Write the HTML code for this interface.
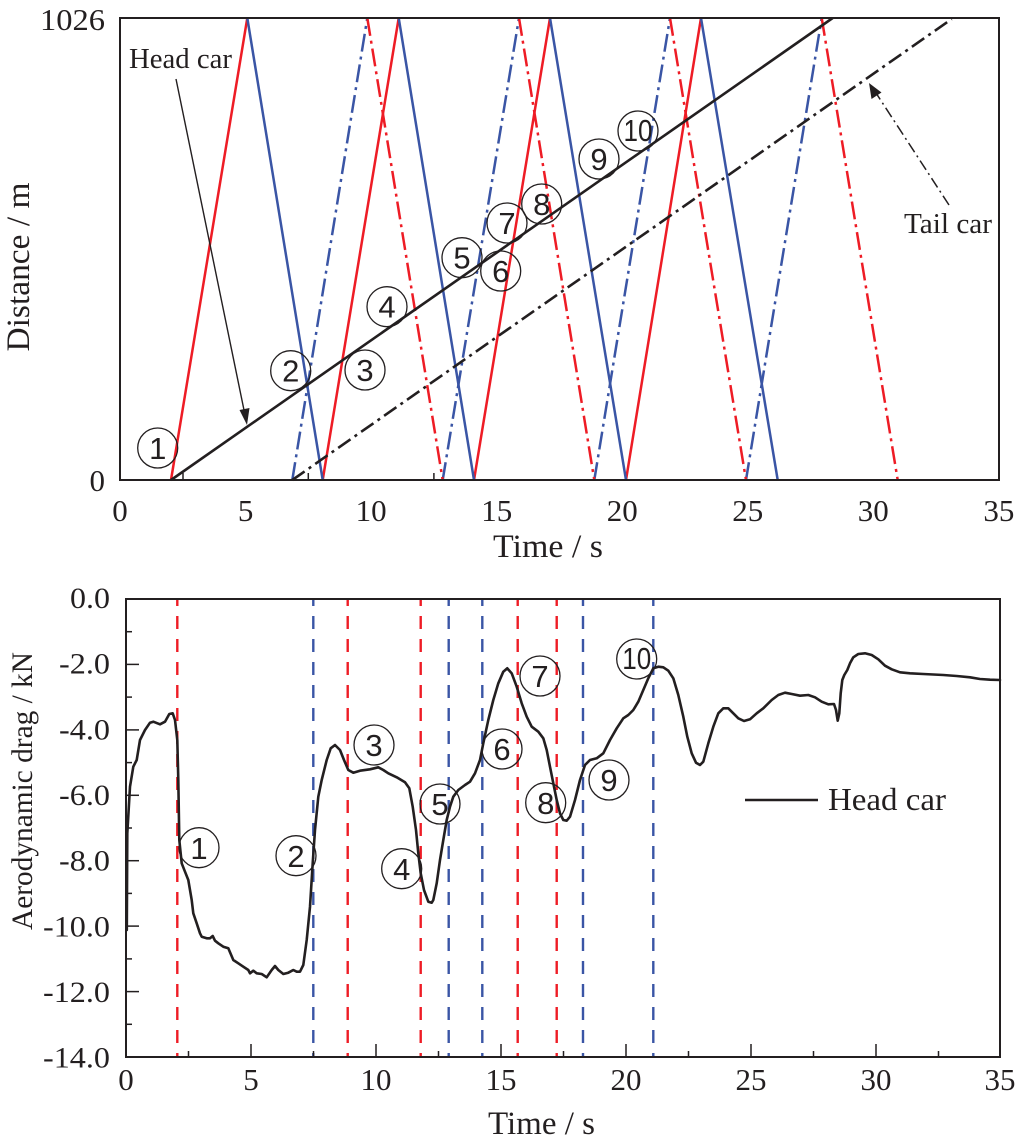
<!DOCTYPE html>
<html><head><meta charset="utf-8"><style>
html,body{margin:0;padding:0;background:#fff;}
svg{display:block;}
.t{font-family:"Liberation Serif",serif;fill:#231f20;}
.n{font-family:"Liberation Sans",sans-serif;fill:#231f20;font-size:31px;text-anchor:middle;}
</style></head><body>
<svg width="1017" height="1146" viewBox="0 0 1017 1146" xmlns="http://www.w3.org/2000/svg">
<rect width="1017" height="1146" fill="#fff"/>
<!-- ================= TOP CHART ================= -->
<g stroke-width="2.5" fill="none" stroke-linecap="butt">
<g stroke="#ee1c25">
<line x1="171" y1="480" x2="247.3" y2="18"/>
<line x1="322.7" y1="480" x2="398.7" y2="18"/>
<line x1="474" y1="480" x2="550" y2="18"/>
<line x1="626" y1="480" x2="701" y2="18"/>
</g>
<g stroke="#3a55a5">
<line x1="247.3" y1="18" x2="322.7" y2="480"/>
<line x1="398.7" y1="18" x2="474" y2="480"/>
<line x1="550" y1="18" x2="626" y2="480"/>
<line x1="701" y1="18" x2="777.7" y2="480"/>
</g>
<g stroke="#3a55a5" stroke-dasharray="18 5 3 5">
<line x1="292.3" y1="480" x2="367.3" y2="18"/>
<line x1="442.7" y1="480" x2="519" y2="18"/>
<line x1="594.3" y1="480" x2="670" y2="18"/>
<line x1="746" y1="480" x2="821.7" y2="18"/>
</g>
<g stroke="#ee1c25" stroke-dasharray="18 5 3 5">
<line x1="367.3" y1="18" x2="442.7" y2="480"/>
<line x1="519" y1="18" x2="594.3" y2="480"/>
<line x1="670" y1="18" x2="746" y2="480"/>
<line x1="821.7" y1="18" x2="897.7" y2="480"/>
</g>
<line x1="171" y1="480" x2="832.7" y2="18" stroke="#231f20" stroke-width="2.6"/>
<line x1="292.3" y1="480" x2="951.7" y2="19" stroke="#231f20" stroke-width="2.6" stroke-dasharray="15 5 3 5"/>
</g>
<rect x="120" y="18" width="879" height="462" fill="none" stroke="#231f20" stroke-width="2"/>
<g stroke="#231f20" stroke-width="1.5">
<line x1="183" y1="480" x2="183" y2="473"/>
<line x1="308.3" y1="480" x2="308.3" y2="473"/>
<line x1="433.9" y1="480" x2="433.9" y2="473"/>
</g>
<text class="t" x="129" y="68" font-size="29" textLength="103" lengthAdjust="spacingAndGlyphs">Head car</text>
<line x1="176" y1="79" x2="244.6" y2="413" stroke="#231f20" stroke-width="1.4"/>
<polygon points="247,425 239.5,410 249.5,408" fill="#231f20"/>
<text class="t" x="904" y="233" font-size="29" textLength="88" lengthAdjust="spacingAndGlyphs">Tail car</text>
<line x1="949" y1="205" x2="876" y2="93" stroke="#231f20" stroke-width="1.5" stroke-dasharray="11 4 2 4"/>
<polygon points="869,83 871.5,99 881.5,92.5" fill="#231f20"/>
<g fill="none" stroke="#231f20" stroke-width="1.3">
<circle cx="157.7" cy="448" r="20"/>
<circle cx="290.7" cy="370.7" r="20"/>
<circle cx="365" cy="370" r="20"/>
<circle cx="387" cy="306.7" r="20"/>
<circle cx="462" cy="257.7" r="20"/>
<circle cx="500.7" cy="271" r="20"/>
<circle cx="507" cy="223" r="20"/>
<circle cx="541.7" cy="204" r="20"/>
<circle cx="599" cy="159" r="20"/>
<circle cx="638" cy="131" r="20"/>
</g>
<text class="n" x="157.7" y="459">1</text>
<text class="n" x="290.7" y="381.7">2</text>
<text class="n" x="365" y="381">3</text>
<text class="n" x="387" y="317.7">4</text>
<text class="n" x="462" y="268.7">5</text>
<text class="n" x="500.7" y="282">6</text>
<text class="n" x="507" y="234">7</text>
<text class="n" x="541.7" y="215">8</text>
<text class="n" x="599" y="170">9</text>
<text class="n" x="638" y="141" font-size="28" textLength="29" lengthAdjust="spacingAndGlyphs">10</text>
<g class="t" font-size="31" text-anchor="end">
<text x="105" y="30" textLength="65" lengthAdjust="spacingAndGlyphs">1026</text>
<text x="105" y="491">0</text>
</g>
<g class="t" font-size="31" text-anchor="middle">
<text x="120" y="521">0</text>
<text x="245.6" y="521">5</text>
<text x="371.1" y="521">10</text>
<text x="496.7" y="521">15</text>
<text x="622.2" y="521">20</text>
<text x="747.8" y="521">25</text>
<text x="873.3" y="521">30</text>
<text x="998.9" y="521">35</text>
</g>
<text class="t" x="548" y="557" font-size="33" text-anchor="middle" textLength="110" lengthAdjust="spacingAndGlyphs">Time / s</text>
<text class="t" transform="translate(29,267) rotate(-90)" x="0" y="0" font-size="33" text-anchor="middle" textLength="169" lengthAdjust="spacingAndGlyphs">Distance / m</text>

<!-- ================= BOTTOM CHART ================= -->
<g stroke-width="2.4" stroke-dasharray="13 10" stroke-dashoffset="6">
<g stroke="#ee1c25">
<line x1="177.3" y1="599" x2="177.3" y2="1057"/>
<line x1="347.7" y1="599" x2="347.7" y2="1057"/>
<line x1="420.7" y1="599" x2="420.7" y2="1057"/>
<line x1="517.7" y1="599" x2="517.7" y2="1057"/>
<line x1="556.7" y1="599" x2="556.7" y2="1057"/>
</g>
<g stroke="#3a55a5">
<line x1="313.3" y1="599" x2="313.3" y2="1057"/>
<line x1="448.7" y1="599" x2="448.7" y2="1057"/>
<line x1="482.3" y1="599" x2="482.3" y2="1057"/>
<line x1="583" y1="599" x2="583" y2="1057"/>
<line x1="653.3" y1="599" x2="653.3" y2="1057"/>
</g>
</g>
<polyline fill="none" stroke="#231f20" stroke-width="2.6" stroke-linejoin="round" stroke-linecap="round" points="
126.8,930 127.3,833.3 130,786.7 133.3,766.7 136.7,760 140,740 145,730 150,722.7 153.3,721.7 160,724.3 165,721.7 169.3,714 172.7,713.3 175,720 177.3,740 178.3,780 179.3,840 181.7,863.3 185,871.7 188.3,880 191.7,900 193.3,913.3 196.7,923.3 200,933.3 201.7,936.7 206.7,938.3 210,938.3 212.7,936 215,940.7 218.3,943.3 223.3,946.7 228.3,948.3 233.3,960 238.3,963.3 243.3,966.7 248.3,970 250,973.3 253.3,970.7 256.7,973.3 261.7,974 266.7,977.3 271.7,970 275,966 278.3,970 283.3,974 288.3,972.7 293.3,970 296.7,971.7 300,971.7 303.3,965 306.7,940 310,906.7 312.7,863.3 315,830 318.3,796.7 321.7,780 326.7,760 330.7,748.3 335,745 340,750 344,760 348.3,770 353.3,772.7 360,770.7 370,769.3 378.3,767.3 383.3,770 388.3,773.3 396.7,777.3 405,782.3 409.3,788.3 412.7,806.7 416,830 418.3,853.3 420.7,873.3 424,890 428.3,901.7 431.7,902.7 433.3,900 436.7,883.3 440,860 443.3,840 446.7,820 450,806.7 453.3,796.7 458.3,790 465,785 470,781.7 475,773.3 480,760 483.3,743.3 488.3,720 493.3,700 498.3,683.3 503.3,671.7 507.3,668.3 511.7,673.3 516.7,686.7 521.7,703.3 526.7,716.7 531.7,726.7 538.3,731.7 543.3,738.3 546.7,750 550,766.7 553.3,783.3 556.7,800 560,813.3 563.3,820 566.7,820.7 570,816.7 575,800 580,780 585,765 590,760 596.7,758.3 603.3,753.3 610,740 616.7,728.3 623.3,718.3 628.3,715 633.3,710 638.3,701.7 643.3,690 648.3,678.3 653.3,668.3 658.3,666.7 663.3,667.3 668.3,670.7 673.3,678.3 678.3,695 683.3,716.7 687.3,736.7 691.7,753.3 696,762.7 700,765 703.3,761.7 708.3,743.3 713.3,726.7 718.3,713.3 723.3,708.3 728.3,708.3 733.3,713.3 738.3,718.3 744,721 750,719.3 756.7,713.3 763.3,708.3 771.7,700 778.3,695 785,692.7 791.7,694 800,695.7 808.3,695 815,697.3 821.7,701.7 828.3,704.3 834,704 836,710 837.7,720.7 839.3,713.3 840.7,693.3 842.3,680 844.3,675 847.3,670 850,663.3 853.3,657.3 858.3,654 865,653.3 871.7,655 878.3,659.3 885,665.7 891.7,669.3 900,672.3 910,673.3 923.3,674 943.3,675 956.7,676 970,677.3 980,679 990,679.7 1000,680"/>
<rect x="126" y="599" width="874" height="458" fill="none" stroke="#231f20" stroke-width="2"/>
<g stroke="#231f20" stroke-width="1.5">
<line x1="126" y1="631.7" x2="132" y2="631.7"/>
<line x1="126" y1="664.4" x2="139" y2="664.4"/>
<line x1="126" y1="697.1" x2="132" y2="697.1"/>
<line x1="126" y1="729.9" x2="139" y2="729.9"/>
<line x1="126" y1="762.6" x2="132" y2="762.6"/>
<line x1="126" y1="795.3" x2="139" y2="795.3"/>
<line x1="126" y1="828" x2="132" y2="828"/>
<line x1="126" y1="860.7" x2="139" y2="860.7"/>
<line x1="126" y1="893.4" x2="132" y2="893.4"/>
<line x1="126" y1="926.1" x2="139" y2="926.1"/>
<line x1="126" y1="958.9" x2="132" y2="958.9"/>
<line x1="126" y1="991.6" x2="139" y2="991.6"/>
<line x1="126" y1="1024.3" x2="132" y2="1024.3"/>
<line x1="188.5" y1="1057" x2="188.5" y2="1051"/>
<line x1="251" y1="1057" x2="251" y2="1044"/>
<line x1="313.5" y1="1057" x2="313.5" y2="1051"/>
<line x1="376" y1="1057" x2="376" y2="1044"/>
<line x1="438.5" y1="1057" x2="438.5" y2="1051"/>
<line x1="501" y1="1057" x2="501" y2="1044"/>
<line x1="563.5" y1="1057" x2="563.5" y2="1051"/>
<line x1="626" y1="1057" x2="626" y2="1044"/>
<line x1="688.5" y1="1057" x2="688.5" y2="1051"/>
<line x1="751" y1="1057" x2="751" y2="1044"/>
<line x1="813.5" y1="1057" x2="813.5" y2="1051"/>
<line x1="876" y1="1057" x2="876" y2="1044"/>
<line x1="938.5" y1="1057" x2="938.5" y2="1051"/>
</g>
<line x1="745" y1="800" x2="818" y2="800" stroke="#231f20" stroke-width="2.6"/>
<text class="t" x="828" y="810" font-size="32" textLength="118" lengthAdjust="spacingAndGlyphs">Head car</text>
<g fill="none" stroke="#231f20" stroke-width="1.3">
<circle cx="199" cy="847.7" r="20"/>
<circle cx="296" cy="855.7" r="20"/>
<circle cx="374" cy="745" r="20"/>
<circle cx="401.7" cy="868.7" r="20"/>
<circle cx="440" cy="804" r="20"/>
<circle cx="502" cy="749" r="20"/>
<circle cx="540" cy="676" r="20"/>
<circle cx="545.7" cy="802.7" r="20"/>
<circle cx="609" cy="780" r="20"/>
<circle cx="636.7" cy="659" r="20"/>
</g>
<text class="n" x="199" y="859">1</text>
<text class="n" x="296" y="867">2</text>
<text class="n" x="374" y="756">3</text>
<text class="n" x="401.7" y="880">4</text>
<text class="n" x="440" y="815">5</text>
<text class="n" x="502" y="760">6</text>
<text class="n" x="540" y="687">7</text>
<text class="n" x="545.7" y="814">8</text>
<text class="n" x="609" y="791">9</text>
<text class="n" x="636.7" y="669" font-size="28" textLength="29" lengthAdjust="spacingAndGlyphs">10</text>
<g class="t" font-size="30" text-anchor="end">
<text x="110" y="608" textLength="40" lengthAdjust="spacingAndGlyphs">0.0</text>
<text x="110" y="673.7" textLength="51" lengthAdjust="spacingAndGlyphs">-2.0</text>
<text x="110" y="739.3" textLength="51" lengthAdjust="spacingAndGlyphs">-4.0</text>
<text x="110" y="805" textLength="51" lengthAdjust="spacingAndGlyphs">-6.0</text>
<text x="110" y="870.7" textLength="51" lengthAdjust="spacingAndGlyphs">-8.0</text>
<text x="110" y="936.4" textLength="67" lengthAdjust="spacingAndGlyphs">-10.0</text>
<text x="110" y="1002" textLength="67" lengthAdjust="spacingAndGlyphs">-12.0</text>
<text x="110" y="1067.7" textLength="67" lengthAdjust="spacingAndGlyphs">-14.0</text>
</g>
<g class="t" font-size="31" text-anchor="middle">
<text x="126" y="1090">0</text>
<text x="251" y="1090">5</text>
<text x="376" y="1090">10</text>
<text x="501" y="1090">15</text>
<text x="626" y="1090">20</text>
<text x="751" y="1090">25</text>
<text x="876" y="1090">30</text>
<text x="1000" y="1090">35</text>
</g>
<text class="t" x="541.5" y="1134" font-size="33" text-anchor="middle" textLength="107" lengthAdjust="spacingAndGlyphs">Time / s</text>
<text class="t" transform="translate(32,791) rotate(-90)" x="0" y="0" font-size="29.5" text-anchor="middle" textLength="278" lengthAdjust="spacingAndGlyphs">Aerodynamic drag / kN</text>
</svg>
</body></html>
